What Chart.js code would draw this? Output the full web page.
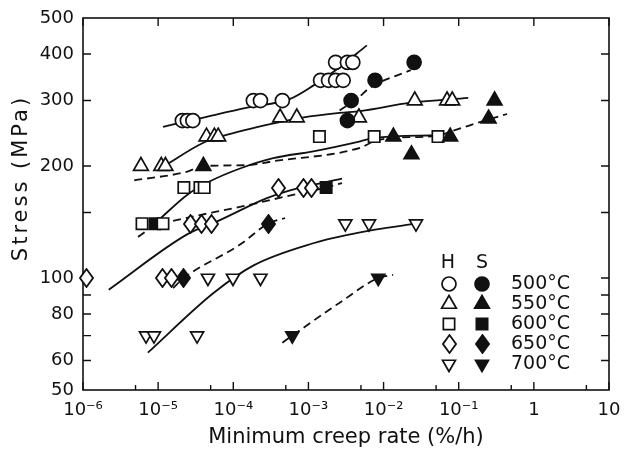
<!DOCTYPE html>
<html>
<head>
<meta charset="utf-8">
<script src="https://cdn.jsdelivr.net/npm/chart.js@4.4.1/dist/chart.umd.min.js"></script>
<style>
  html, body { margin: 0; padding: 0; background: #fff; }
  #wrap { width: 625px; height: 452px; }
</style>
</head>
<body>
<div id="wrap"><canvas id="creepCanvas"></canvas></div>
<script>
// axis ticks
const xTickValues = [1e-6, 1e-5, 1e-4, 1e-3, 1e-2, 1e-1, 1, 10];
const xTickLabels = ["10⁻⁶", "10⁻⁵", "10⁻⁴", "10⁻³", "10⁻²", "10⁻¹", "1", "10"];
const xMinorTicks = [5e-6, 5e-5, 5e-4, 5e-3, 5e-2, 0.5, 5];
const yTickValues = [50, 60, 70, 80, 90, 100, 150, 200, 300, 400, 500];
const yTickLabels = ["50", "60", "", "80", "", "100", "", "200", "300", "400", "500"];

const tempLabels = ["500°C", "550°C", "600°C", "650°C", "700°C"];

// measured points, H = open symbols, S = filled symbols
const h500Rate = [2.1e-5, 2.45e-5, 2.9e-5, 1.85e-4, 2.3e-4, 4.5e-4, 1.45e-3, 1.85e-3, 2.3e-3, 2.9e-3, 2.3e-3, 3.3e-3, 3.9e-3];
const h500Stress = [265, 265, 265, 300, 300, 300, 340, 340, 340, 340, 380, 380, 380];
const s500Rate = [3.3e-3, 3.7e-3, 7.7e-3, 2.55e-2];
const s500Stress = [265, 300, 340, 380];

const h550Rate = [5.9e-6, 1.1e-5, 1.25e-5, 4.4e-5, 5.6e-5, 6.3e-5, 4.2e-4, 7.0e-4, 4.7e-3, 2.6e-2, 7.0e-2, 8.2e-2];
const h550Stress = [200, 200, 200, 240, 240, 240, 270, 270, 270, 300, 300, 300];
const s550Rate = [4.0e-5, 1.35e-2, 2.35e-2, 7.7e-2, 0.25, 0.30];
const s550Stress = [200, 240, 215, 240, 268, 300];

const h600Rate = [6.1e-6, 1.16e-5, 2.2e-5, 3.6e-5, 4.1e-5, 1.4e-3, 7.5e-3, 5.3e-2];
const h600Stress = [140, 140, 175, 175, 175, 240, 240, 240];
const s600Rate = [9.1e-6, 1.72e-3];
const s600Stress = [140, 175];

const h650Rate = [1.1e-6, 1.13e-5, 1.5e-5, 2.7e-5, 3.8e-5, 5.2e-5, 4.0e-4, 8.5e-4, 1.1e-3];
const h650Stress = [100, 100, 100, 140, 140, 140, 175, 175, 175];
const s650Rate = [2.2e-5, 2.9e-4];
const s650Stress = [100, 140];

const h700Rate = [6.9e-6, 8.8e-6, 3.3e-5, 4.6e-5, 9.9e-5, 2.3e-4, 3.1e-3, 6.4e-3, 2.7e-2];
const h700Stress = [70, 70, 70, 100, 100, 100, 140, 140, 140];
const s700Rate = [6.1e-4, 8.5e-3];
const s700Stress = [70, 100];

// hand drawn fit curves (solid = H, dashed = S)
const h500FitRate = [1.16e-5, 4e-5, 1.53e-4, 5.7e-4, 1.16e-3, 2.3e-3, 6e-3];
const h500FitStress = [255, 270, 287, 303, 329, 362, 422];
const s500FitRate = [2.6e-3, 4.5e-3, 6.6e-3, 2.3e-2];
const s500FitStress = [282, 304, 325, 362];
const h550FitRate = [1.2e-5, 4e-5, 7.3e-5, 3.6e-4, 8.3e-4, 2.6e-3, 4.9e-3, 2.3e-2, 0.134];
const h550FitStress = [200, 231, 241, 261, 270, 278, 281, 296, 305];
const s550FitRate = [4.8e-6, 2.4e-5, 4e-5, 1.5e-4, 3.4e-4, 4.9e-3, 7.5e-3, 1.3e-2, 5e-2, 8.5e-2, 0.25, 0.44];
const s550FitStress = [183, 193, 200, 201, 206, 224, 233, 238, 241, 249, 267, 276];
const h600FitRate = [9.7e-6, 2.5e-5, 4.9e-5, 1.23e-4, 3.4e-4, 1.16e-3, 4.9e-3, 7.5e-3, 5.3e-2];
const h600FitStress = [142, 168, 182, 197, 210, 219, 233, 238, 242];
const s600FitRate = [5.4e-6, 9e-6, 1.3e-5, 1.35e-4, 4.6e-4, 1.72e-3, 2.8e-3];
const s600FitStress = [129, 138, 141, 156, 165, 175, 180];
const h650FitRate = [2.2e-6, 2.43e-5, 6.1e-5, 2.8e-4, 5.7e-4, 2.8e-3];
const h650FitStress = [93, 131, 142, 164, 172, 185];
const s650FitRate = [1.58e-5, 2.2e-5, 1.23e-4, 2.9e-4, 4.9e-4];
const s650FitStress = [94, 100, 123, 140, 145];
const h700FitRate = [7.3e-6, 5.4e-5, 1.84e-4, 1.16e-3, 3.6e-3, 7.7e-3, 2.7e-2];
const h700FitStress = [63, 91, 108, 124, 131, 135, 140];
const s700FitRate = [4.5e-4, 6.1e-4, 2.64e-3, 8.5e-3, 1.34e-2];
const s700FitStress = [67, 70, 86, 100, 102];

const INK = "#111";

function pairs(rate, stress) {
  return rate.map((r, i) => ({ x: r, y: stress[i] }));
}

// diamonds in the figure are taller than wide, so draw them on a small canvas
function diamondImage(filled) {
  const c = document.createElement("canvas");
  c.width = 15;
  c.height = 20;
  const g = c.getContext("2d");
  g.beginPath();
  g.moveTo(7.5, 1);
  g.lineTo(14, 10);
  g.lineTo(7.5, 19);
  g.lineTo(1, 10);
  g.closePath();
  g.fillStyle = filled ? INK : "#fff";
  g.fill();
  g.lineWidth = 1.8;
  g.strokeStyle = INK;
  g.stroke();
  return c;
}

const markerStyles = [
  { style: "circle", radius: 7, rotation: 0 },
  { style: "triangle", radius: 8.5, rotation: 0 },
  { style: "rect", radius: 8, rotation: 0 },
  { style: "diamond", radius: 8, rotation: 0 },
  { style: "triangle", radius: 7.5, rotation: 180 },
];
const openDiamond = diamondImage(false);
const filledDiamond = diamondImage(true);

function markerSet(rate, stress, idx, filled) {
  const m = markerStyles[idx];
  let ps = m.style;
  if (ps === "diamond") ps = filled ? filledDiamond : openDiamond;
  return {
    data: pairs(rate, stress),
    pointStyle: ps,
    pointRadius: m.radius,
    pointRotation: m.rotation,
    backgroundColor: filled ? INK : "#fff",
    borderColor: INK,
    pointBorderWidth: 1.7,
    clip: false,
    order: 1,
  };
}

function fitLine(rate, stress, dashed) {
  return {
    data: pairs(rate, stress),
    showLine: true,
    pointRadius: 0,
    borderColor: INK,
    borderWidth: 1.8,
    borderDash: dashed ? [8, 5] : [],
    cubicInterpolationMode: "monotone",
    order: 2,
  };
}

const frameTicks = {
  id: "frameTicks",
  beforeDatasetsDraw(chart) {
    const { ctx, chartArea: a, scales } = chart;
    ctx.imageSmoothingEnabled = false;
    ctx.save();
    ctx.strokeStyle = INK;
    ctx.lineWidth = 1.6;
    ctx.strokeRect(a.left, a.top, a.right - a.left, a.bottom - a.top);
    ctx.lineWidth = 1.4;
    ctx.beginPath();
    xTickValues.forEach((v) => {
      const px = scales.x.getPixelForValue(v);
      ctx.moveTo(px, a.bottom);
      ctx.lineTo(px, a.bottom - 8);
      ctx.moveTo(px, a.top);
      ctx.lineTo(px, a.top + 8);
    });
    xMinorTicks.forEach((v) => {
      const px = scales.x.getPixelForValue(v);
      ctx.moveTo(px, a.bottom);
      ctx.lineTo(px, a.bottom - 5);
    });
    yTickValues.slice(1, -1).forEach((v) => {
      const py = scales.y.getPixelForValue(v);
      ctx.moveTo(a.left, py);
      ctx.lineTo(a.left + 8, py);
      ctx.moveTo(a.right, py);
      ctx.lineTo(a.right - 8, py);
    });
    ctx.stroke();
    ctx.restore();
  },
};

function drawMarker(ctx, idx, filled, x, y) {
  const m = markerStyles[idx];
  if (m.style === "diamond") {
    const img = filled ? filledDiamond : openDiamond;
    ctx.drawImage(img, Math.round(x - img.width / 2), Math.round(y - img.height / 2));
    return;
  }
  ctx.save();
  ctx.fillStyle = filled ? INK : "#fff";
  ctx.strokeStyle = INK;
  ctx.lineWidth = 1.7;
  Chart.helpers.drawPoint(ctx, { pointStyle: m.style, radius: m.radius, rotation: m.rotation, borderWidth: 1.7 }, x, y);
  ctx.restore();
}

// symbol key and the spaced-out y title
const symbolKey = {
  id: "symbolKey",
  afterDatasetsDraw(chart) {
    const ctx = chart.ctx;
    ctx.save();
    ctx.fillStyle = INK;
    ctx.font = '19px "DejaVu Sans"';
    ctx.textBaseline = "middle";
    ctx.textAlign = "center";
    ctx.fillText("H", 448, 263);
    ctx.fillText("S", 482, 263);
    ctx.textAlign = "left";
    tempLabels.forEach((t, i) => {
      const yy = 284 + i * 20;
      drawMarker(ctx, i, false, 449, yy);
      drawMarker(ctx, i, true, 482, yy);
      ctx.fillStyle = INK;
      ctx.fillText(t, 511, yy);
    });
    ctx.restore();

    ctx.save();
    ctx.translate(22, 178);
    ctx.rotate(-Math.PI / 2);
    ctx.font = '21px "DejaVu Sans"';
    ctx.letterSpacing = "3px";
    ctx.fillStyle = INK;
    ctx.textAlign = "center";
    ctx.textBaseline = "middle";
    ctx.fillText("Stress (MPa)", 0, 0);
    ctx.restore();
  },
};

Chart.defaults.font.family = '"DejaVu Sans", sans-serif';
Chart.defaults.color = INK;

const creepCanvas = document.getElementById("creepCanvas");

const creepChart = new Chart(creepCanvas, {
  type: "scatter",
  data: {
    datasets: [
      markerSet(h500Rate, h500Stress, 0, false),
      markerSet(s500Rate, s500Stress, 0, true),
      markerSet(h550Rate, h550Stress, 1, false),
      markerSet(s550Rate, s550Stress, 1, true),
      markerSet(h600Rate, h600Stress, 2, false),
      markerSet(s600Rate, s600Stress, 2, true),
      markerSet(h650Rate, h650Stress, 3, false),
      markerSet(s650Rate, s650Stress, 3, true),
      markerSet(h700Rate, h700Stress, 4, false),
      markerSet(s700Rate, s700Stress, 4, true),
      fitLine(h500FitRate, h500FitStress, false),
      fitLine(s500FitRate, s500FitStress, true),
      fitLine(h550FitRate, h550FitStress, false),
      fitLine(s550FitRate, s550FitStress, true),
      fitLine(h600FitRate, h600FitStress, false),
      fitLine(s600FitRate, s600FitStress, true),
      fitLine(h650FitRate, h650FitStress, false),
      fitLine(s650FitRate, s650FitStress, true),
      fitLine(h700FitRate, h700FitStress, false),
      fitLine(s700FitRate, s700FitStress, true),
    ],
  },
  options: {
    responsive: true,
    maintainAspectRatio: false,
    animation: false,
    layout: {
      padding: { left: 0, right: 16, top: 18, bottom: 0 },
    },
    scales: {
      x: {
        type: "logarithmic",
        min: 1e-6,
        max: 10,
        grid: { display: false, drawTicks: false },
        border: { display: false },
        afterBuildTicks: (scale) => {
          scale.ticks = xTickValues.map((v) => ({ value: v }));
        },
        afterFit: (scale) => {
          scale.height = 62;
          scale.paddingLeft = 0;
          scale.paddingRight = 0;
        },
        ticks: {
          autoSkip: false,
          maxRotation: 0,
          padding: 10,
          font: { size: 18 },
          callback: (v) => {
            const i = xTickValues.indexOf(v);
            return i >= 0 ? xTickLabels[i] : "";
          },
        },
        title: {
          display: true,
          text: "Minimum creep rate (%/h)",
          font: { size: 21 },
          padding: { top: 0, bottom: 2 },
        },
      },
      y: {
        type: "logarithmic",
        min: 50,
        max: 500,
        grid: { display: false, drawTicks: false },
        border: { display: false },
        afterBuildTicks: (scale) => {
          scale.ticks = yTickValues.map((v) => ({ value: v }));
        },
        afterFit: (scale) => {
          scale.width = 83;
          scale.paddingTop = 0;
          scale.paddingBottom = 0;
        },
        ticks: {
          autoSkip: false,
          padding: 9,
          font: { size: 18 },
          callback: (v) => {
            const i = yTickValues.indexOf(v);
            return i >= 0 ? yTickLabels[i] : "";
          },
        },
        title: { display: false },
      },
    },
    plugins: {
      legend: { display: false },
      tooltip: { enabled: false },
    },
  },
  plugins: [frameTicks, symbolKey],
});
</script>
</body>
</html>
